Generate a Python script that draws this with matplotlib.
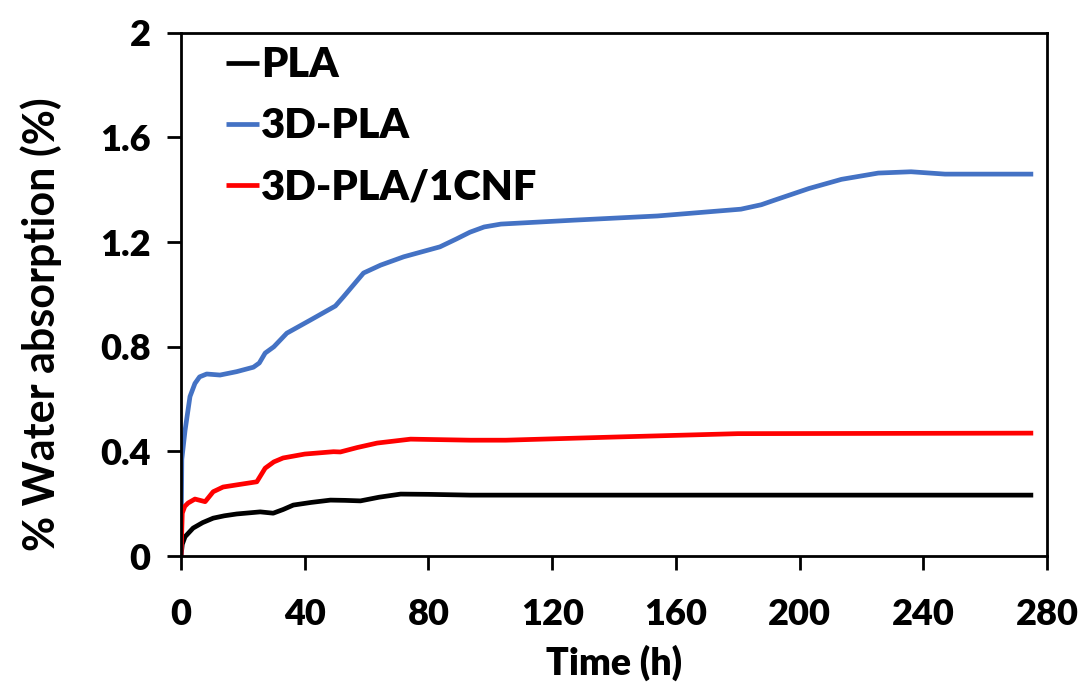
import matplotlib
matplotlib.use("Agg")
import matplotlib.pyplot as plt

# ---- data ----
t_pla = [0, 0.4, 1.3, 3.9, 7, 10.4, 14, 18, 25.6, 29.8, 33, 36.3, 42, 48.3, 53, 58, 64, 71, 80, 93.6, 150, 200, 275.5]
y_pla = [0, 0.045, 0.074, 0.107, 0.128, 0.145, 0.154, 0.161, 0.169, 0.164, 0.178, 0.195, 0.205, 0.214, 0.213, 0.211, 0.225, 0.237, 0.236, 0.233, 0.233, 0.233, 0.233]

t_3d = [0, 0.25, 1.3, 2.9, 4.5, 6, 8.3, 12.6, 18, 23.4, 25.3, 27.2, 30, 34.2, 41.8, 49.9, 52.5, 56, 59,
        64.5, 72, 83.7, 89, 93.4, 98, 103.4, 127, 154, 181, 187.6, 192, 203, 213.5, 225.4, 236, 247, 275.5]
y_3d = [0, 0.37, 0.48, 0.61, 0.66, 0.685, 0.696, 0.692, 0.705, 0.722, 0.738, 0.776, 0.80, 0.852, 0.902, 0.956, 0.991, 1.04, 1.082,
        1.112, 1.144, 1.182, 1.212, 1.238, 1.258, 1.269, 1.284, 1.30, 1.326, 1.343, 1.361, 1.405, 1.44, 1.464, 1.469, 1.46, 1.46]

t_cnf = [0, 0.4, 1.2, 2.3, 4.5, 7.8, 10.4, 13.6, 19, 24.5, 27.2, 30, 33, 40, 49.3, 51.5, 57, 63.4, 74.2, 93.6, 105, 140, 180, 275.5]
y_cnf = [0, 0.164, 0.19, 0.203, 0.218, 0.208, 0.246, 0.264, 0.274, 0.284, 0.336, 0.36, 0.375, 0.39, 0.399, 0.398, 0.415, 0.432, 0.447, 0.443, 0.443, 0.455, 0.468, 0.47]

labels = ["PLA", "3D-PLA", "3D-PLA/1CNF"]
colors = ["#000000", "#4472C4", "#FF0000"]
xticks = [0, 40, 80, 120, 160, 200, 240, 280]
yticks = [0, 0.4, 0.8, 1.2, 1.6, 2]
yticklabels = ["0", "0.4", "0.8", "1.2", "1.6", "2"]

plt.rcParams['font.family'] = ['Lato', 'DejaVu Sans']
plt.rcParams['font.weight'] = 'bold'

fig = plt.figure(figsize=(10.84, 6.84), dpi=100)
ax = fig.add_axes([0.167, 0.187, 0.799, 0.765])

for t, y, lab, c in zip([t_pla, t_3d, t_cnf], [y_pla, y_3d, y_cnf], labels, colors):
    ax.plot(t, y, color=c, lw=3.4, label=lab, solid_joinstyle='round', solid_capstyle='butt')

ax.set_xlim(0, 280)
ax.set_ylim(0, 2)
ax.set_xticks(xticks)
ax.set_xticklabels([str(v) for v in xticks])
ax.set_yticks(yticks)
ax.set_yticklabels(yticklabels)
for s in ax.spines.values():
    s.set_linewidth(2.0)
ax.tick_params(axis='both', direction='out', length=10, width=2.0, labelsize=26)
ax.tick_params(axis='x', pad=20)
ax.tick_params(axis='y', pad=12)
for lbl in ax.get_xticklabels() + ax.get_yticklabels():
    lbl.set_fontweight('heavy')

ax.set_xlabel("Time (h)", fontsize=27, fontweight='heavy', labelpad=10)
ax.set_ylabel("% Water absorption (%)", fontsize=31, fontweight='bold')
ax.yaxis.set_label_coords(-0.138, 0.443)

leg = ax.legend(loc='upper left', bbox_to_anchor=(0.023, 1.022), frameon=False,
                prop={'size': 30, 'weight': 'heavy'}, handlelength=0.8,
                handletextpad=0.05, labelspacing=0.55, borderaxespad=0.2)

fig.savefig("out.png", dpi=100)
